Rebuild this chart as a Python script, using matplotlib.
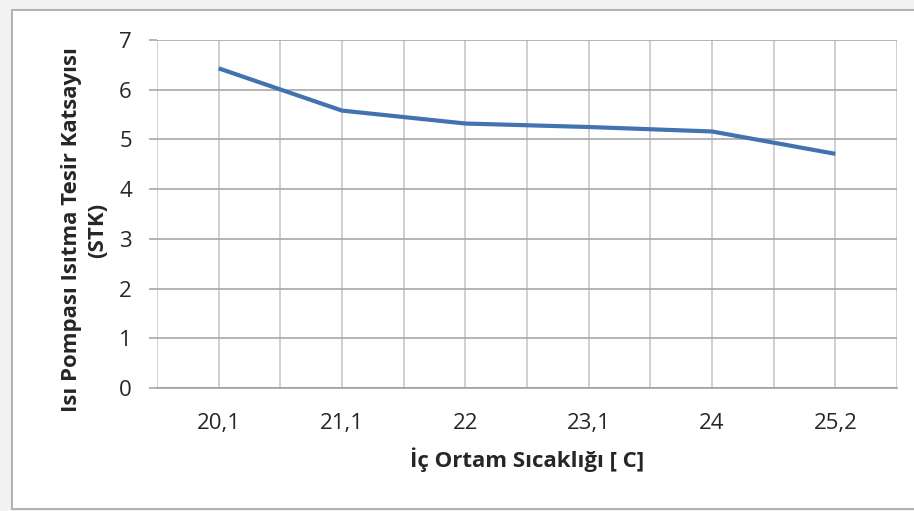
import numpy as np
import matplotlib.pyplot as plt
from matplotlib.patches import Rectangle

# data
sicaklik = ["20,1", "21,1", "22", "23,1", "24", "25,2"]
stk = [6.43, 5.58, 5.32, 5.25, 5.16, 4.71]

plt.rcParams['font.family'] = ['Open Sans', 'DejaVu Sans']

fig = plt.figure(figsize=(9.14, 5.11), dpi=100)

# chart area border with a faint shadow, like an Excel chart pasted in a document
fig.patches.append(Rectangle((0.0, 0.0), 1.0, 1.0, transform=fig.transFigure,
                             facecolor='#f2f2f2', edgecolor='none', zorder=-3))
fig.patches.append(Rectangle((12 / 914, 2 / 511), 1.0, 1 - 12 / 511, transform=fig.transFigure,
                             facecolor='white', edgecolor='#a6a6a6', linewidth=1.2, zorder=-2))

ax = fig.add_axes([157 / 914, 1 - 388 / 511, 740 / 914, 348 / 511])
x = np.arange(len(sicaklik))
ax.plot(x, stk, color='#4372b0', linewidth=3.0, solid_capstyle='butt', zorder=3)

ax.set_xlim(-0.5, len(sicaklik) - 0.5)
ax.set_ylim(0, 7)
ax.set_xticks(x)
ax.set_xticklabels(sicaklik)
ax.xaxis.remove_overlapping_locs = False
ax.set_xticks(np.arange(-0.5, len(sicaklik), 0.5), minor=True)
ax.set_yticks(range(0, 8))

ax.grid(which='minor', axis='x', color='#c8c8c8', linewidth=1.2)
ax.grid(which='major', axis='y', color='#a8a8a8', linewidth=1.2)
ax.set_axisbelow(True)

for s in ['top', 'right', 'left']:
    ax.spines[s].set_visible(False)
ax.spines['bottom'].set_color('#a0a0a0')
ax.spines['bottom'].set_linewidth(1.2)

ax.tick_params(axis='y', length=6, width=1.2, color='#a8a8a8', pad=12,
               labelsize=16, labelcolor='#262626')
ax.tick_params(axis='x', which='both', length=0, pad=18,
               labelsize=16, labelcolor='#262626')

ax.set_ylabel('Isı Pompası Isıtma Tesir Katsayısı\n(STK)', fontsize=16,
              fontweight='bold', color='#262626', linespacing=1.3)
ax.yaxis.set_label_coords(-0.066, 0.454)
ax.set_xlabel('İç Ortam Sıcaklığı [ C]', fontsize=16, fontweight='bold',
              color='#262626', labelpad=10)

plt.savefig('out.png', dpi=100)
